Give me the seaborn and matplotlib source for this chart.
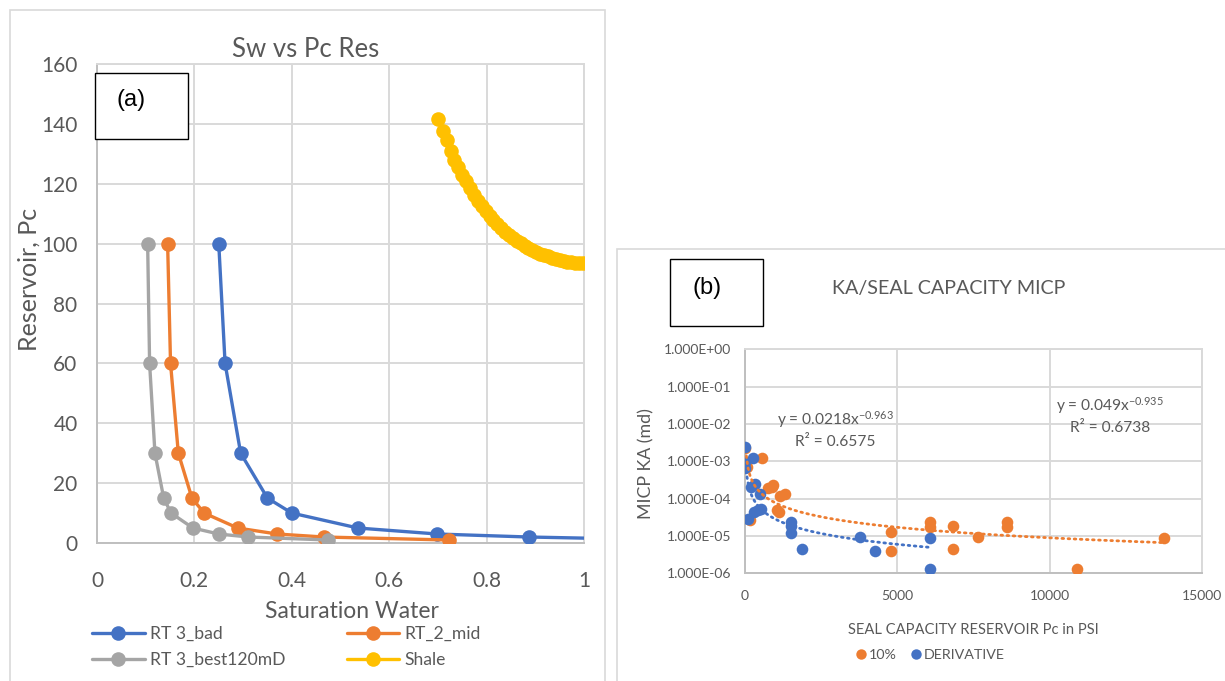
import numpy as np
import pandas as pd
import matplotlib
matplotlib.use("Agg")
import matplotlib.pyplot as plt
import seaborn as sns
from matplotlib.patches import Rectangle
from matplotlib.lines import Line2D
from matplotlib.ticker import FuncFormatter, FixedLocator

# ---------------- Panel (a) data ----------------
bad_sw = [0.250, 0.263, 0.295, 0.350, 0.400, 0.536, 0.699, 0.887, 1.10]
bad_pc = [100, 60, 30, 15, 10, 5, 3, 2, 1.3]
mid_sw = [0.145, 0.151, 0.167, 0.195, 0.220, 0.289, 0.370, 0.466, 0.722]
mid_pc = [100, 60, 30, 15, 10, 5, 3, 2, 1]
best_sw = [0.104, 0.108, 0.119, 0.137, 0.152, 0.197, 0.250, 0.311, 0.475]
best_pc = [100, 60, 30, 15, 10, 5, 3, 2, 1]
shale_sw = [0.700, 0.710, 0.718, 0.726, 0.734, 0.742, 0.750, 0.758, 0.766, 0.774,
            0.782, 0.790, 0.798, 0.806, 0.814, 0.822, 0.830, 0.838, 0.846, 0.854,
            0.862, 0.870, 0.878, 0.886, 0.894, 0.902, 0.910, 0.918, 0.926, 0.934,
            0.942, 0.950, 0.958, 0.966, 0.974, 0.982, 0.990, 0.998]
shale_pc = [141.5, 137.5, 134.5, 131.0, 128.0, 125.5, 123.0, 120.8, 118.6, 116.4,
            114.4, 112.6, 110.9, 109.3, 107.9, 106.5, 105.2, 104.0, 102.9, 101.9,
            101.0, 100.1, 99.3, 98.6, 97.9, 97.3, 96.7, 96.2, 95.7, 95.3,
            94.9, 94.6, 94.3, 94.0, 93.8, 93.6, 93.5, 93.4]
series_names = ["RT 3_bad", "RT_2_mid", "RT 3_best120mD", "Shale"]
series_colors = ["#4472C4", "#ED7D31", "#A5A5A5", "#FFC000"]
a_xticks = [0, 0.2, 0.4, 0.6, 0.8, 1.0]
a_xticklabels = ["0", "0.2", "0.4", "0.6", "0.8", "1"]
a_yticks = [0, 20, 40, 60, 80, 100, 120, 140, 160]

# ---------------- Panel (b) data ----------------
p10_pc = [0, 50, 164, 547, 744, 870, 908, 1149, 1313, 1040, 1116, 4781, 4781,
          6063, 6063, 6818, 6818, 7660, 8602, 8602, 10889, 13762]
p10_ka = [2.3e-3, 7.0e-4, 2.7e-5, 1.2e-3, 1.96e-4, 2.0e-4, 2.3e-4, 1.2e-4, 1.33e-4,
          5.0e-5, 4.5e-5, 1.26e-5, 3.9e-6, 2.4e-5, 1.75e-5, 1.8e-5, 4.5e-6, 9.5e-6,
          2.4e-5, 1.75e-5, 1.28e-6, 8.7e-6]
der_pc = [0, 0, 0, 263, 197, 328, 481, 88, 306, 438, 525, 1499, 1499, 1499,
          1882, 3775, 4278, 6063, 6063]
der_ka = [2.37e-3, 9.8e-4, 6.5e-4, 1.2e-3, 2.1e-4, 2.5e-4, 1.33e-4, 2.9e-5, 4.5e-5,
          5.0e-5, 5.2e-5, 2.4e-5, 1.8e-5, 1.23e-5, 4.6e-6, 9.4e-6, 4.0e-6, 8.7e-6, 1.28e-6]
# power trendlines as printed on the chart: y = a * x^b
trend_p10 = (0.049, -0.935, 0.6738)
trend_der = (0.0218, -0.963, 0.6575)
b_xticks = [0, 5000, 10000, 15000]
b_yticks = [1e-6, 1e-5, 1e-4, 1e-3, 1e-2, 1e-1, 1e0]

# ---------------- styling ----------------
sns.set_theme(style="white")
FONT = ["Lato", "DejaVu Sans"]
plt.rcParams["font.family"] = FONT
plt.rcParams["mathtext.fontset"] = "custom"
plt.rcParams["mathtext.rm"] = "Lato"
plt.rcParams["mathtext.it"] = "Lato"
plt.rcParams["mathtext.bf"] = "Lato"
plt.rcParams["mathtext.sf"] = "Lato"
plt.rcParams["mathtext.default"] = "regular"
TXT = "#595959"
GRID = "#D9D9D9"
W, H = 1225, 681

fig = plt.figure(figsize=(W / 100, H / 100), dpi=100)
fig.patch.set_facecolor("white")

# panel borders
fig.add_artist(Rectangle((10 / W, -0.01), (605 - 10) / W, 1 - 10 / H + 0.01,
                         transform=fig.transFigure, fill=False, edgecolor=GRID, lw=1.2))
fig.add_artist(Rectangle((617 / W, -0.01), 0.6, 1 - 249 / H + 0.01,
                         transform=fig.transFigure, fill=False, edgecolor=GRID, lw=1.2))

# ================= Panel (a) =================
ax1 = fig.add_axes([97 / W, 1 - 543 / H, 487 / W, 479 / H])
a_data = [(bad_sw, bad_pc), (mid_sw, mid_pc), (best_sw, best_pc), (shale_sw, shale_pc)]
for (sx, sy), name, col in zip(a_data, series_names, series_colors):
    df = pd.DataFrame({"Sw": sx, "Pc": sy})
    sns.lineplot(data=df, x="Sw", y="Pc", ax=ax1, color=col, lw=2.4, marker="o",
                 markersize=10.5, markeredgewidth=0, sort=False, estimator=None,
                 label=name, clip_on=True, zorder=3)
ax1.set_xlim(0, 1)
ax1.set_ylim(0, 160)
ax1.xaxis.set_major_locator(FixedLocator(a_xticks))
ax1.set_xticklabels(a_xticklabels)
ax1.yaxis.set_major_locator(FixedLocator(a_yticks))
ax1.grid(True, color=GRID, lw=1.4)
ax1.set_axisbelow(True)
for s in ax1.spines.values():
    s.set_color(GRID)
    s.set_linewidth(1.4)
ax1.spines["left"].set_color("#BFBFBF")
ax1.spines["bottom"].set_color("#BFBFBF")
ax1.tick_params(axis="both", length=0, labelsize=15, colors=TXT)
ax1.tick_params(axis="x", pad=20)
ax1.tick_params(axis="y", pad=14)
ax1.set_title("Sw vs Pc Res", fontsize=18.5, color=TXT, x=0.429, y=1.014, pad=0)
ax1.set_xlabel("Saturation Water", fontsize=16.5, color=TXT)
ax1.xaxis.set_label_coords(0.524, -0.122)
ax1.set_ylabel("Reservoir, Pc", fontsize=18, color=TXT)
ax1.yaxis.set_label_coords(-0.116, 0.551)
h, l = ax1.get_legend_handles_labels()
ax1.get_legend().remove()
order = [0, 2, 1, 3]
leg_a = fig.legend([h[i] for i in order], [l[i] for i in order], ncol=2,
                   loc="upper left", bbox_to_anchor=(92 / W, 1 - 626 / H),
                   frameon=False, fontsize=12.6, handlelength=3.0, handletextpad=0.3,
                   columnspacing=3.5, labelspacing=0.55, borderpad=0, borderaxespad=0)
for t in leg_a.get_texts():
    t.set_color(TXT)

# (a) label box
fig.add_artist(Rectangle((95 / W, 1 - 139 / H), 93 / W, 66 / H, transform=fig.transFigure,
                         fill=True, facecolor="white", edgecolor="black", lw=1.0, zorder=5))
fig.text(131 / W, 1 - 100 / H, "(a)", family=["Liberation Sans", "DejaVu Sans"],
         fontsize=17, ha="center", va="center", color="black", zorder=6)

# ================= Panel (b) =================
ax2 = fig.add_axes([745 / W, 1 - 573.3 / H, 457 / W, 224 / H])
df10 = pd.DataFrame({"Pc": p10_pc, "KA": p10_ka})
dfd = pd.DataFrame({"Pc": der_pc, "KA": der_ka})
sns.scatterplot(data=df10, x="Pc", y="KA", ax=ax2, color="#ED7D31", s=70,
                linewidth=0, zorder=3)
sns.scatterplot(data=dfd, x="Pc", y="KA", ax=ax2, color="#4472C4", s=70,
                linewidth=0, zorder=4)
for (a, b, r2), xs, col in [(trend_p10, p10_pc, "#ED7D31"), (trend_der, der_pc, "#4472C4")]:
    xpos = [v for v in xs if v > 0]
    xx = np.linspace(45, max(xpos), 300)
    tdf = pd.DataFrame({"Pc": xx, "KA": a * xx ** b})
    sns.lineplot(data=tdf, x="Pc", y="KA", ax=ax2, color=col, lw=2.0,
                 linestyle=(0, (0.6, 1.6)), dash_capstyle="round", zorder=5)
ax2.set_yscale("log")
ax2.set_xlim(0, 15000)
ax2.set_ylim(1e-6, 1e0)
ax2.xaxis.set_major_locator(FixedLocator(b_xticks))
ax2.yaxis.set_major_locator(FixedLocator(b_yticks))
ax2.yaxis.set_minor_locator(FixedLocator([]))
ax2.yaxis.set_major_formatter(FuncFormatter(lambda v, p: f"{v:.3E}"))
ax2.xaxis.set_major_formatter(FuncFormatter(lambda v, p: f"{v:.0f}"))
ax2.grid(True, color=GRID, lw=1.4)
ax2.set_axisbelow(True)
for s in ax2.spines.values():
    s.set_color(GRID)
    s.set_linewidth(1.4)
ax2.spines["left"].set_color("#BFBFBF")
ax2.spines["bottom"].set_color("#BFBFBF")
ax2.tick_params(axis="both", length=0, labelsize=10, colors=TXT)
ax2.tick_params(axis="x", pad=12)
ax2.tick_params(axis="y", pad=10)
ax2.set_xlabel("SEAL CAPACITY RESERVOIR Pc in PSI", fontsize=10.6, color=TXT)
ax2.xaxis.set_label_coords(0.5, -0.222)
ax2.set_ylabel("MICP KA (md)", fontsize=12.8, color=TXT)
ax2.yaxis.set_label_coords(-0.198, 0.49)
ax2.set_title("KA/SEAL CAPACITY MICP", fontsize=14.2, color=TXT,
              x=(949 - 745) / 457, y=1 + (349.3 - 294) / 224, pad=0)
EQ_FS = 11.2
ax2.text((835 - 745) / 457, (573.3 - 420) / 224,
         f"y = {trend_der[0]}x$^{{{trend_der[1]}}}$", transform=ax2.transAxes,
         ha="center", va="center", fontsize=EQ_FS, color=TXT)
ax2.text((835 - 745) / 457, (573.3 - 442) / 224, f"R² = {trend_der[2]}",
         transform=ax2.transAxes, ha="center", va="center", fontsize=EQ_FS, color=TXT)
ax2.text((1110 - 745) / 457, (573.3 - 406) / 224,
         f"y = {trend_p10[0]}x$^{{{trend_p10[1]}}}$", transform=ax2.transAxes,
         ha="center", va="center", fontsize=EQ_FS, color=TXT)
ax2.text((1110 - 745) / 457, (573.3 - 428) / 224, f"R² = {trend_p10[2]}",
         transform=ax2.transAxes, ha="center", va="center", fontsize=EQ_FS, color=TXT)
if ax2.get_legend() is not None:
    ax2.get_legend().remove()
hb = [Line2D([], [], ls="none", marker="o", markersize=7.5, markeredgewidth=0, color="#ED7D31"),
      Line2D([], [], ls="none", marker="o", markersize=7.5, markeredgewidth=0, color="#4472C4")]
leg_b = fig.legend(hb, ["10%", "DERIVATIVE"], ncol=2, loc="center",
                   bbox_to_anchor=(930 / W, 1 - 655 / H), frameon=False, fontsize=10.3,
                   handlelength=0.8, handletextpad=0.2, columnspacing=0.9,
                   borderpad=0, borderaxespad=0)
for t in leg_b.get_texts():
    t.set_color(TXT)

# (b) label box
fig.add_artist(Rectangle((670 / W, 1 - 326 / H), 93 / W, 67 / H, transform=fig.transFigure,
                         fill=True, facecolor="white", edgecolor="black", lw=1.0, zorder=5))
fig.text(707 / W, 1 - 288 / H, "(b)", family=["Liberation Sans", "DejaVu Sans"],
         fontsize=17, ha="center", va="center", color="black", zorder=6)

fig.savefig("out.png", dpi=100, facecolor="white")
